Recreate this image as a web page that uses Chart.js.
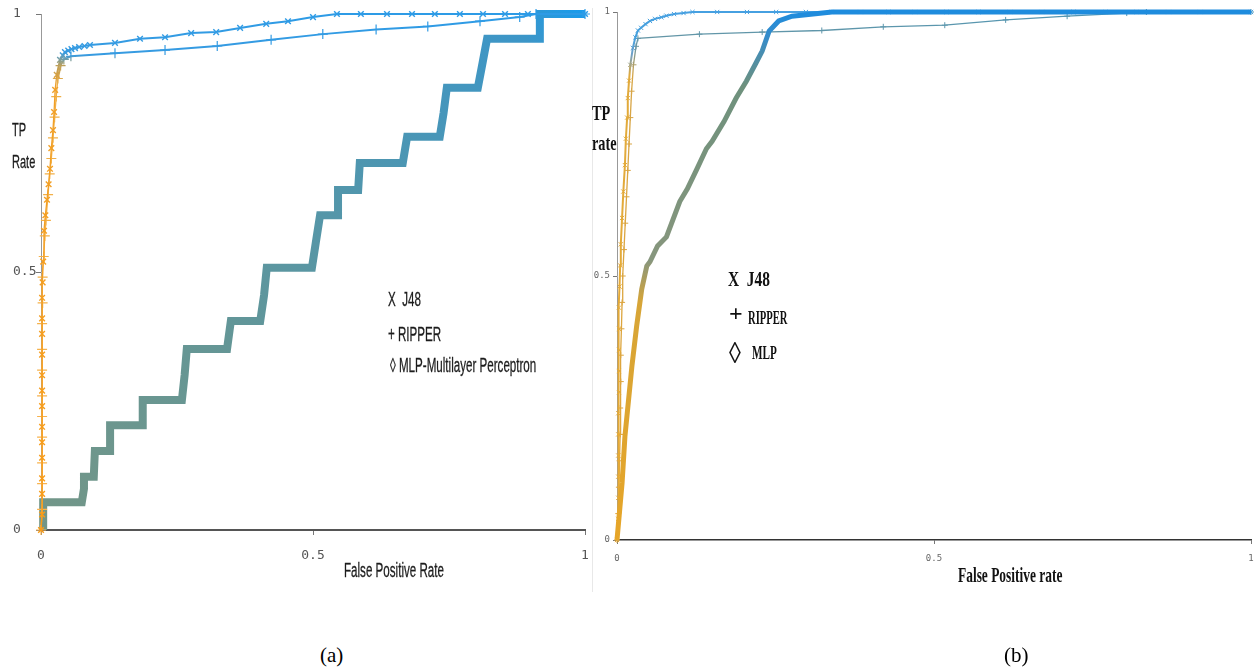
<!DOCTYPE html>
<html>
<head>
<meta charset="utf-8">
<script src="https://cdn.jsdelivr.net/npm/chart.js@4.4.1/dist/chart.umd.min.js"></script>
<style>
  body { margin: 0; width: 1256px; height: 671px; background: #fff; position: relative; overflow: hidden; }
  .box { position: absolute; top: 0; }
  .t { position: absolute; white-space: nowrap; color: #222; transform-origin: left top; }
  .na { font-family: "Liberation Sans", Arial, sans-serif; font-size: 20px; color: #1c1c1c; transform: scaleX(0.58); -webkit-text-stroke: 0.3px #1c1c1c; }
  .se { font-family: "Liberation Serif", "Times New Roman", serif; font-weight: bold; color: #111; }
  .cap { font-family: "Liberation Serif", "Times New Roman", serif; font-size: 21px; color: #000; }
</style>
</head>
<body>

<div class="box" style="left:0;width:592px;height:600px"><canvas id="roc_a" width="592" height="600"></canvas></div>
<div class="box" style="left:592px;top:8px;width:1px;height:584px;background:#e8e8e8"></div>
<div class="box" style="left:592px;width:664px;height:600px"><canvas id="roc_b" width="664" height="600"></canvas></div>

<!-- textos painel (a) -->
<div class="t na" style="left:12px;top:119px;font-size:19px">TP</div>
<div class="t na" style="left:12px;top:151px;font-size:19px">Rate</div>
<div class="t na" style="left:344px;top:559px">False Positive Rate</div>
<div class="t na" style="left:388px;top:288px">X&nbsp;&nbsp;J48</div>
<div class="t na" style="left:388px;top:323px">+ RIPPER</div>
<div class="t na" style="left:390px;top:354px">◊ MLP-Multilayer Perceptron</div>

<!-- textos painel (b) -->
<div class="t se" style="left:592px;top:101px;font-size:21px;transform:scaleX(0.68)">TP</div>
<div class="t se" style="left:592px;top:131px;font-size:21px;transform:scaleX(0.68)">rate</div>
<div class="t se" style="left:958px;top:562px;font-size:22px;transform:scaleX(0.61)">False Positive rate</div>
<div class="t se" style="left:728px;top:266px;font-size:22px;transform:scaleX(0.7)">X&nbsp;&nbsp;J48</div>
<div class="t se" style="left:729px;top:300px;font-size:24px">+</div>
<div class="t se" style="left:748px;top:308px;font-size:18px;transform:scaleX(0.59)">RIPPER</div>
<div class="t se" style="left:729px;top:336px;font-size:30px;transform:scaleX(0.8)">◊</div>
<div class="t se" style="left:752px;top:343px;font-size:18px;transform:scaleX(0.62)">MLP</div>

<div class="t cap" style="left:320px;top:643px">(a)</div>
<div class="t cap" style="left:1004px;top:643px">(b)</div>

<script>
// eixos
var tickVals = [0, 0.5, 1];
var tickLabels = ["0", "0.5", "1"];

// painel (a) - J48
var fprA_j48 = [0, 0.002, 0.002, 0.002, 0.002, 0.002, 0.002, 0.002, 0.002, 0.002, 0.002, 0.002, 0.002, 0.002, 0.003, 0.004, 0.0055, 0.008, 0.011, 0.014, 0.0165, 0.019, 0.022, 0.024, 0.026, 0.029, 0.035, 0.04, 0.044, 0.05, 0.056, 0.0625, 0.07, 0.08, 0.09, 0.136, 0.182, 0.228, 0.276, 0.322, 0.366, 0.414, 0.454, 0.5, 0.544, 0.588, 0.636, 0.682, 0.724, 0.77, 0.8125, 0.853, 0.895, 1];
var tprA_j48 = [0, 0.03, 0.07, 0.1, 0.14, 0.17, 0.2, 0.24, 0.27, 0.3, 0.34, 0.38, 0.41, 0.45, 0.48, 0.52, 0.58, 0.61, 0.64, 0.67, 0.7, 0.74, 0.775, 0.81, 0.853, 0.882, 0.911, 0.92, 0.926, 0.929, 0.932, 0.934, 0.936, 0.938, 0.94, 0.944, 0.952, 0.955, 0.963, 0.965, 0.973, 0.981, 0.986, 0.994, 1, 1, 1, 1, 1, 1, 1, 1, 1, 1];

// painel (a) - RIPPER
var fprA_rip = [0, 0.002, 0.002, 0.002, 0.002, 0.002, 0.002, 0.002, 0.002, 0.002, 0.003, 0.003, 0.005, 0.007, 0.009, 0.013, 0.016, 0.019, 0.022, 0.025, 0.028, 0.031, 0.036, 0.042, 0.055, 0.136, 0.228, 0.324, 0.423, 0.518, 0.616, 0.711, 0.807, 0.88, 0.91, 1];
var tprA_rip = [0, 0.04, 0.09, 0.13, 0.18, 0.22, 0.26, 0.31, 0.35, 0.4, 0.44, 0.49, 0.53, 0.57, 0.6, 0.65, 0.69, 0.72, 0.76, 0.8, 0.84, 0.875, 0.9, 0.912, 0.918, 0.924, 0.93, 0.938, 0.95, 0.961, 0.97, 0.976, 0.986, 0.994, 1, 1];

// painel (a) - MLP
var fprA_mlp = [0.004, 0.004, 0.075, 0.079, 0.079, 0.097, 0.099, 0.127, 0.127, 0.187, 0.187, 0.259, 0.264, 0.268, 0.342, 0.349, 0.403, 0.41, 0.415, 0.498, 0.505, 0.513, 0.546, 0.546, 0.583, 0.586, 0.665, 0.673, 0.733, 0.74, 0.746, 0.803, 0.812, 0.82, 0.917, 0.917, 1];
var tprA_mlp = [0, 0.054, 0.054, 0.08, 0.103, 0.103, 0.153, 0.153, 0.203, 0.203, 0.252, 0.252, 0.3, 0.351, 0.351, 0.405, 0.405, 0.455, 0.508, 0.508, 0.556, 0.61, 0.61, 0.659, 0.659, 0.711, 0.711, 0.762, 0.762, 0.808, 0.857, 0.857, 0.907, 0.952, 0.952, 1, 1];

// painel (b) - J48
var fprB_j48 = [0, 0.002, 0.002, 0.002, 0.002, 0.002, 0.002, 0.003, 0.003, 0.003, 0.003, 0.003, 0.004, 0.005, 0.006, 0.008, 0.01, 0.0125, 0.014, 0.016, 0.017, 0.019, 0.021, 0.025, 0.029, 0.033, 0.038, 0.045, 0.052, 0.06, 0.07, 0.078, 0.09, 0.105, 0.119, 0.158, 0.205, 0.251, 0.298, 0.339, 0.384, 0.428, 0.47, 0.52, 0.57, 0.62, 0.67, 0.72, 0.77, 0.82, 0.87, 0.92, 1];
var tprB_j48 = [0, 0.04, 0.08, 0.12, 0.16, 0.2, 0.24, 0.28, 0.32, 0.36, 0.4, 0.44, 0.48, 0.52, 0.56, 0.61, 0.66, 0.71, 0.76, 0.8, 0.837, 0.87, 0.9, 0.932, 0.952, 0.965, 0.97, 0.977, 0.983, 0.987, 0.99, 0.993, 0.996, 0.998, 1, 1, 1, 1, 1, 1, 1, 1, 1, 1, 1, 1, 1, 1, 1, 1, 1, 1, 1];

// painel (b) - RIPPER
var fprB_rip = [0, 0.002, 0.003, 0.004, 0.005, 0.005, 0.006, 0.006, 0.007, 0.008, 0.009, 0.011, 0.013, 0.015, 0.017, 0.019, 0.021, 0.023, 0.026, 0.03, 0.033, 0.13, 0.229, 0.323, 0.42, 0.517, 0.613, 0.71, 0.804, 0.835, 1];
var tprB_rip = [0, 0.05, 0.1, 0.15, 0.2, 0.25, 0.3, 0.35, 0.4, 0.45, 0.5, 0.55, 0.6, 0.65, 0.7, 0.75, 0.8, 0.85, 0.9, 0.935, 0.95, 0.958, 0.962, 0.965, 0.972, 0.975, 0.985, 0.992, 0.998, 1, 1];

// painel (b) - MLP
var fprB_mlp = [0, 0.008, 0.0125, 0.0235, 0.031, 0.039, 0.047, 0.052, 0.064, 0.078, 0.099, 0.111, 0.125, 0.141, 0.15, 0.169, 0.188, 0.204, 0.219, 0.229, 0.24, 0.255, 0.276, 0.339, 1];
var tprB_mlp = [0, 0.108, 0.196, 0.329, 0.405, 0.475, 0.519, 0.527, 0.557, 0.574, 0.641, 0.665, 0.7, 0.741, 0.755, 0.793, 0.837, 0.869, 0.903, 0.926, 0.964, 0.983, 0.992, 1, 1];

function pontos(xs, ys) {
  var arr = [];
  for (var i = 0; i < xs.length; i++) {
    arr.push({ x: xs[i], y: ys[i] });
  }
  return arr;
}

// degrade vertical pelo valor de y (0 -> 1)
function gradY(stops) {
  return function (c) {
    var chart = c.chart;
    if (!chart.chartArea) return stops[0][1];
    var ys = chart.scales.y;
    var g = chart.ctx.createLinearGradient(0, ys.getPixelForValue(0), 0, ys.getPixelForValue(1));
    stops.forEach(function (s) { g.addColorStop(s[0], s[1]); });
    return g;
  };
}

// degrade diagonal (0,0) -> (1,1)
function gradXY(stops) {
  return function (c) {
    var chart = c.chart;
    if (!chart.chartArea) return stops[0][1];
    var xs = chart.scales.x, ys = chart.scales.y;
    var g = chart.ctx.createLinearGradient(xs.getPixelForValue(0), ys.getPixelForValue(0), xs.getPixelForValue(1), ys.getPixelForValue(1));
    stops.forEach(function (s) { g.addColorStop(s[0], s[1]); });
    return g;
  };
}

// parte laranja mais fina
function larguraSeg(fina, grossa, lim) {
  return function (c) { return c.p1.parsed.y < lim ? fina : grossa; };
}

var corJ48a = gradY([[0, "rgb(250,155,20)"], [0.86, "rgb(240,160,40)"], [0.9, "rgb(190,160,90)"], [0.925, "rgb(55,155,225)"], [1, "rgb(45,155,230)"]]);
var corRipA = gradY([[0, "rgb(250,180,80)"], [0.86, "rgb(240,175,70)"], [0.9, "rgb(190,160,90)"], [0.92, "rgb(55,155,225)"], [1, "rgb(45,155,230)"]]);
var corMlpA = gradXY([[0, "rgb(115,150,135)"], [0.35, "rgb(100,150,150)"], [0.7, "rgb(75,150,180)"], [0.92, "rgb(60,150,200)"], [1, "rgb(25,155,235)"]]);

var corJ48b = gradY([[0, "rgb(232,170,50)"], [0.88, "rgb(225,170,60)"], [0.92, "rgb(110,160,200)"], [0.95, "rgb(70,160,220)"], [1, "rgb(70,160,225)"]]);
var corRipB = gradY([[0, "rgb(225,165,55)"], [0.88, "rgb(215,165,70)"], [0.93, "rgb(110,150,160)"], [1, "rgb(80,150,180)"]]);
var corMlpB = gradY([[0, "rgb(230,165,40)"], [0.45, "rgb(215,165,55)"], [0.53, "rgb(135,150,125)"], [0.86, "rgb(110,145,125)"], [0.95, "rgb(55,140,200)"], [1, "rgb(30,140,222)"]]);

function escalas(cfg) {
  return {
    x: {
      type: "linear", min: 0, max: 1,
      afterBuildTicks: function (s) { s.ticks = tickVals.map(function (v) { return { value: v }; }); },
      afterFit: function (s) { s.height = cfg.xh; s.paddingLeft = 0; s.paddingRight = 0; },
      border: { display: true, color: cfg.xAxisColor, width: cfg.xAxisWidth },
      grid: { display: true, drawOnChartArea: false, drawTicks: true, tickLength: cfg.tick, color: "#777" },
      ticks: {
        padding: cfg.xpad, color: cfg.tickColor, maxRotation: 0, autoSkip: false,
        font: { family: cfg.tickFont, size: cfg.tickSize },
        callback: function (v) { return tickLabels[tickVals.indexOf(v)]; }
      }
    },
    y: {
      type: "linear", min: 0, max: 1,
      afterBuildTicks: function (s) { s.ticks = tickVals.map(function (v) { return { value: v }; }); },
      afterFit: function (s) { s.width = cfg.yw; s.paddingTop = 0; s.paddingBottom = 0; },
      border: { display: true, color: "#999", width: 1 },
      grid: { display: true, drawOnChartArea: false, drawTicks: true, tickLength: cfg.tick, color: "#777" },
      ticks: {
        padding: cfg.ypad, color: cfg.tickColor, autoSkip: false, crossAlign: cfg.yAlign,
        font: { family: cfg.tickFont, size: cfg.tickSize },
        callback: function (v) { return tickLabels[tickVals.indexOf(v)]; }
      }
    }
  };
}

var opcoesBase = {
  responsive: false,
  animation: false,
  events: [],
  plugins: { legend: { display: false }, tooltip: { enabled: false } },
  elements: { line: { tension: 0 } }
};

var dados_a = {
  type: "line",
  data: {
    datasets: [
      {
        label: "MLP",
        data: pontos(fprA_mlp, tprA_mlp),
        borderColor: corMlpA, borderWidth: 8, pointRadius: 0, borderJoinStyle: "miter",
        clip: 8, order: 3
      },
      {
        label: "RIPPER",
        data: pontos(fprA_rip, tprA_rip),
        borderColor: corRipA, borderWidth: 2, pointStyle: "cross", pointRadius: 5,
        segment: { borderWidth: larguraSeg(1.3, 2, 0.9) },
        pointBorderColor: corRipA, pointBorderWidth: 1.2, clip: 8, order: 2
      },
      {
        label: "J48",
        data: pontos(fprA_j48, tprA_j48),
        borderColor: corJ48a, borderWidth: 2, pointStyle: "crossRot", pointRadius: 4,
        segment: { borderWidth: larguraSeg(1.3, 2, 0.9) },
        pointBorderColor: corJ48a, pointBorderWidth: 1.4, clip: 8, order: 1
      }
    ]
  },
  options: Object.assign({}, opcoesBase, {
    layout: { padding: { top: 14, right: 7, left: 13, bottom: 0 } },
    scales: escalas({ xh: 70, yw: 28, tick: 5, xpad: 13, ypad: 4, yAlign: "far", tickColor: "#555", tickFont: "DejaVu Sans Mono", tickSize: 13, xAxisColor: "#555", xAxisWidth: 2 })
  })
};

var dados_b = {
  type: "line",
  data: {
    datasets: [
      {
        label: "MLP",
        data: pontos(fprB_mlp, tprB_mlp),
        borderColor: corMlpB, borderWidth: 5, pointRadius: 0,
        clip: 8, order: 1
      },
      {
        label: "RIPPER",
        data: pontos(fprB_rip, tprB_rip),
        borderColor: corRipB, borderWidth: 1.3, pointStyle: "cross", pointRadius: 3,
        pointBorderColor: corRipB, pointBorderWidth: 1, clip: 8, order: 3
      },
      {
        label: "J48",
        data: pontos(fprB_j48, tprB_j48),
        borderColor: corJ48b, borderWidth: 2, pointStyle: "crossRot", pointRadius: 3,
        pointBorderColor: corJ48b, pointBorderWidth: 1, clip: 8, order: 2
      }
    ]
  },
  options: Object.assign({}, opcoesBase, {
    layout: { padding: { top: 12, right: 1, left: 0, bottom: 0 } },
    scales: escalas({ xh: 60, yw: 25, tick: 4, xpad: 9, ypad: 3, yAlign: "near", tickColor: "#666", tickFont: "DejaVu Sans Mono", tickSize: 9, xAxisColor: "#333", xAxisWidth: 1.5 })
  })
};

var ctx = document.getElementById("roc_a");
var chart_a = new Chart(ctx, dados_a);

var ct = document.getElementById("roc_b");
var chart_b = new Chart(ct, dados_b);
</script>
</body>
</html>
